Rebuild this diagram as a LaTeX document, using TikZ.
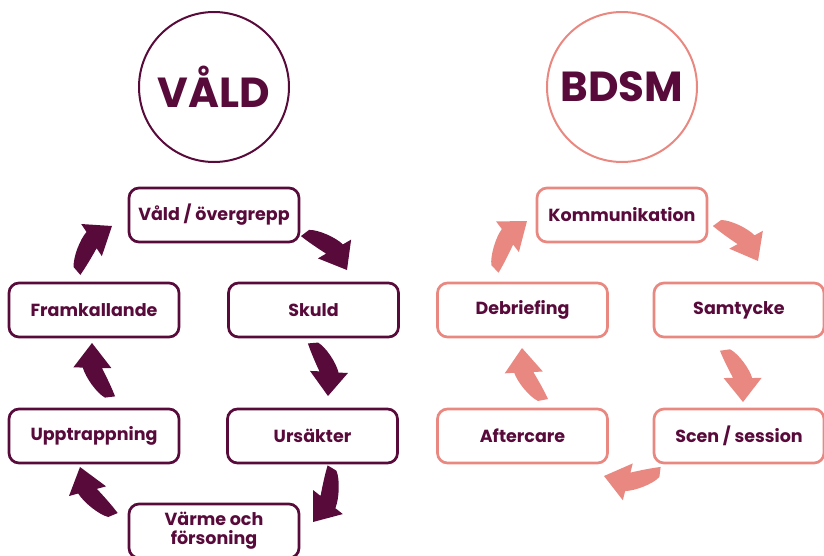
\documentclass[tikz,border=0pt]{standalone}
\usepackage{fontspec}
\setmainfont{Poppins}
\usetikzlibrary{calc}
\definecolor{maroon}{HTML}{580A3A}
\definecolor{salmon}{HTML}{E98880}
\tikzset{
  stagebox/.style={draw, line width=2.7pt, rounded corners=10pt, minimum width=170pt,
    minimum height=54pt, align=center, inner sep=0pt, text=maroon,
    font=\fontsize{17.5}{20.5}\selectfont\bfseries},
  valdbox/.style={stagebox, draw=maroon},
  bdsmbox/.style={stagebox, draw=salmon},
  titlecircle/.style={circle, line width=2pt, minimum size=150pt, inner sep=0pt,
    text=maroon, font=\fontsize{42}{42}\selectfont\bfseries},
}
% crescent block arrow from tail coordinate #1 to tip coordinate #2, fill colour #3
\newcommand\crescentarrow[3]{%
  \pgfpointdiff{\pgfpointanchor{#1}{center}}{\pgfpointanchor{#2}{center}}%
  \pgfgetlastxy{\cdx}{\cdy}%
  \pgfmathsetmacro\cang{atan2(\cdy,\cdx)}%
  \pgfmathsetmacro\clen{veclen(\cdx,\cdy)/56}%
  \begin{scope}[shift={(#1)}, rotate=\cang, x=\clen pt, y=1pt]
    \fill[#3] (-1,-5) .. controls (9,-4.5) and (20,-3) .. (29.5,-1.5)
      -- (26.5,-10.5) -- (56,0) -- (39,25.5) -- (36,16.5)
      .. controls (26,17) and (8,11.5) .. (1,5) -- cycle;
  \end{scope}}
\begin{document}
\begin{tikzpicture}[x=1pt, y=-1pt]
\useasboundingbox (0,0) rectangle (824,555);
% titles
\node[titlecircle, draw=maroon] (valdc) at (214,87) {VÅLD};
\node[titlecircle, draw=salmon] (bdsmc) at (622,87) {BDSM};
% left cycle
\node[valdbox] (v1) at (214,215) {Våld / övergrepp};
\node[valdbox] (v2) at (313.5,310) {Skuld};
\node[valdbox] (v3) at (312.5,436) {Ursäkter};
\node[valdbox] (v4) at (214,531) {\raisebox{2pt}{\begin{tabular}{@{}c@{}}Värme och\\[-1pt]försoning\end{tabular}}};
\node[valdbox] (v5) at (94,436) {Upptrappning};
\node[valdbox] (v6) at (94,310) {Framkallande};
% right cycle
\node[bdsmbox] (b1) at (622,215) {Kommunikation};
\node[bdsmbox] (b2) at (739,310) {Samtycke};
\node[bdsmbox] (b3) at (739,436) {Scen / session};
\node[bdsmbox] (b4) at (522.5,436) {Aftercare};
\node[bdsmbox] (b5) at (522.5,310) {Debriefing};
% arrow end points
\coordinate (v12t) at (305,233); \coordinate (v12h) at (347,270);
\coordinate (v23t) at (313,343); \coordinate (v23h) at (328,396);
\coordinate (v34t) at (332,468); \coordinate (v34h) at (313,522);
\coordinate (v45t) at (113,515); \coordinate (v45h) at (80,467);
\coordinate (v56t) at (110,397); \coordinate (v56h) at (92,343);
\coordinate (v61t) at (77,271);  \coordinate (v61h) at (112,226);
\coordinate (b12t) at (717,223); \coordinate (b12h) at (758,261);
\coordinate (b23t) at (725,350); \coordinate (b23h) at (743,402);
\coordinate (b34t) at (660,472); \coordinate (b34h) at (604,476);
\coordinate (b45t) at (543,400); \coordinate (b45h) at (522,348);
\coordinate (b51t) at (495,269); \coordinate (b51h) at (527,221);
% arrows
\crescentarrow{v12t}{v12h}{maroon}
\crescentarrow{v23t}{v23h}{maroon}
\crescentarrow{v34t}{v34h}{maroon}
\crescentarrow{v45t}{v45h}{maroon}
\crescentarrow{v56t}{v56h}{maroon}
\crescentarrow{v61t}{v61h}{maroon}
\crescentarrow{b12t}{b12h}{salmon}
\crescentarrow{b23t}{b23h}{salmon}
\crescentarrow{b34t}{b34h}{salmon}
\crescentarrow{b45t}{b45h}{salmon}
\crescentarrow{b51t}{b51h}{salmon}
\end{tikzpicture}
\end{document}
